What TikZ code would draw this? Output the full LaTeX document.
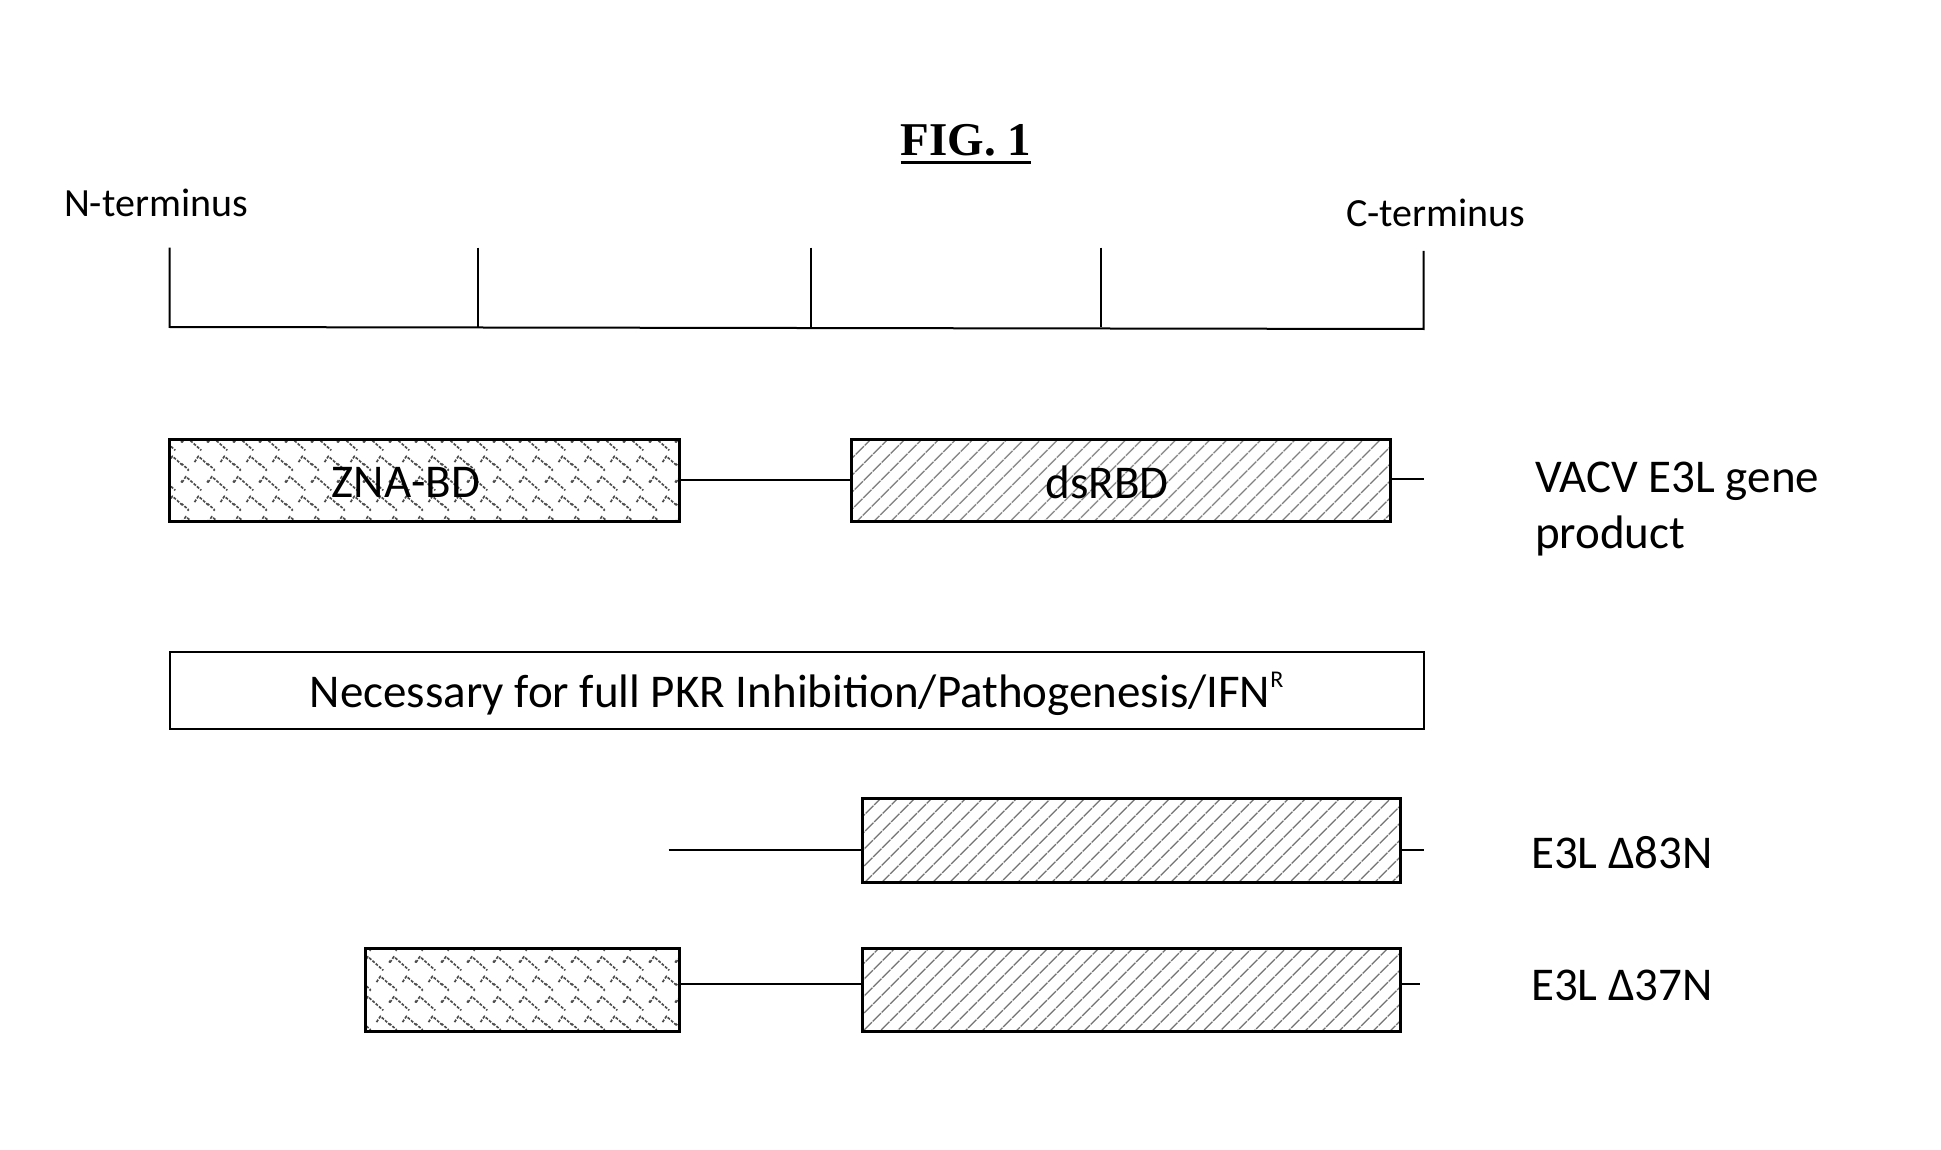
\documentclass[tikz,border=0pt]{standalone}
\usepackage{fontspec}
\setmainfont{Carlito}
\newfontfamily\titlefont{Liberation Serif}
\usetikzlibrary{patterns.meta}
\newcommand\bigtxt{\fontsize{47}{56}\selectfont}
\newcommand\midtxt{\fontsize{40}{48}\selectfont}

\tikzdeclarepattern{
  name=shingle, type=uncolored,
  bounding box={(0pt,0pt) and (26pt,40pt)},
  tile size={(26pt,40pt)},
  code={
    \foreach \dx/\dy in {0/20, 26/20, 0/-20, 26/-20, 13/0, -13/0, 13/40, -13/40}{
      \draw[line width=1.7pt, dash pattern=on 3pt off 1.5pt, line join=round]
        ([shift={(\dx pt,\dy pt)}]0pt,8pt) -- ([shift={(\dx pt,\dy pt)}]4pt,14pt) -- ([shift={(\dx pt,\dy pt)}]20pt,0pt);
    }
  }
}

\tikzset{
  dom/.style={draw, line width=3pt, inner sep=0pt, minimum height=82pt},
  zna/.style={dom, pattern=shingle, pattern color=black!70},
  dsr/.style={dom, pattern={Lines[angle=45,distance=13pt,line width=1.5pt]}, pattern color=black!55},
  boxtext/.style={font=\bigtxt, inner sep=0pt},
  link/.style={line width=2pt},
  ruler/.style={line width=2pt},
  lbl/.style={font=\bigtxt, anchor=west, align=left, inner sep=0pt},
  term/.style={font=\midtxt, anchor=base, inner sep=0pt},
}

\begin{document}
\begin{tikzpicture}[x=1pt,y=-1pt]
\useasboundingbox (0,0) rectangle (1941,1150);

% title
\node[font=\fontsize{47}{56}\selectfont\titlefont\bfseries, anchor=base, inner sep=0pt] (title) at (966,156) {FIG. 1};
\draw[line width=3pt] ([yshift=-7pt]title.base west) -- ([yshift=-7pt]title.base east);

% terminus labels
\node[term] (nterm) at (156,217) {N-terminus};
\node[term] (cterm) at (1436,227) {C-terminus};

% ruler
\coordinate (t1) at (169.6,247.6);
\coordinate (t2) at (477.8,247.6);
\coordinate (t3) at (810.8,247.6);
\coordinate (t4) at (1100.5,247.6);
\coordinate (t5) at (1423.6,251);
\coordinate (b1) at (169.6,327);
\coordinate (b2) at (477.8,327);
\coordinate (b3) at (810.8,327);
\coordinate (b4) at (1100.5,327);
\coordinate (b5) at (1423.6,329);
\draw[ruler] (t1) -- (b1) -- (b5) -- (t5);
\draw[ruler] (t2) -- (b2);
\draw[ruler] (t3) -- (b3);
\draw[ruler] (t4) -- (b4);

% full-length gene product
\node[zna, minimum width=510pt] (zna) at (424.6,480.4) {};
\node[boxtext] (znat) at (406,482) {ZNA-BD};
\node[dsr, minimum width=538.5pt] (dsr) at (1121,480.4) {};
\node[boxtext] (dsrt) at (1107,482) {dsRBD};
\coordinate (tail1) at (1423.6,479);
\draw[link] (zna.east) -- (dsr.west);
\draw[link] (dsr.east |- tail1) -- (tail1);
\node[lbl] (vacv) at (1535,509) {VACV E3L gene\\product};

% necessary box
\node[draw, line width=2pt, minimum width=1254pt, minimum height=76.7pt, inner sep=0pt] (nec) at (796.6,690.8) {};
\node[boxtext] (nect) at (796.6,693.5) {Necessary for full PKR Inhibition/Pathogenesis/IFN\raisebox{0.42em}{\fontsize{24}{24}\selectfont R}};

% Delta 83N
\node[dsr, minimum width=537.3pt, minimum height=84pt] (d83) at (1131.5,840.5) {};
\coordinate (s83) at (668.5,850.4);
\coordinate (e83) at (1423.6,850.4);
\draw[link] (s83) -- (s83 -| d83.west);
\draw[link] (e83 -| d83.east) -- (e83);
\node[lbl] (l83) at (1531,852.7) {E3L Δ83N};

% Delta 37N
\node[zna, minimum width=314.4pt, minimum height=83pt] (z37) at (522.4,989.7) {};
\node[dsr, minimum width=537.3pt, minimum height=83pt] (d37) at (1131.5,989.7) {};
\coordinate (e37) at (1420,984);
\draw[link] (z37.east |- e37) -- (d37.west |- e37);
\draw[link] (d37.east |- e37) -- (e37);
\node[lbl] (l37) at (1531,985) {E3L Δ37N};
\end{tikzpicture}
\end{document}
